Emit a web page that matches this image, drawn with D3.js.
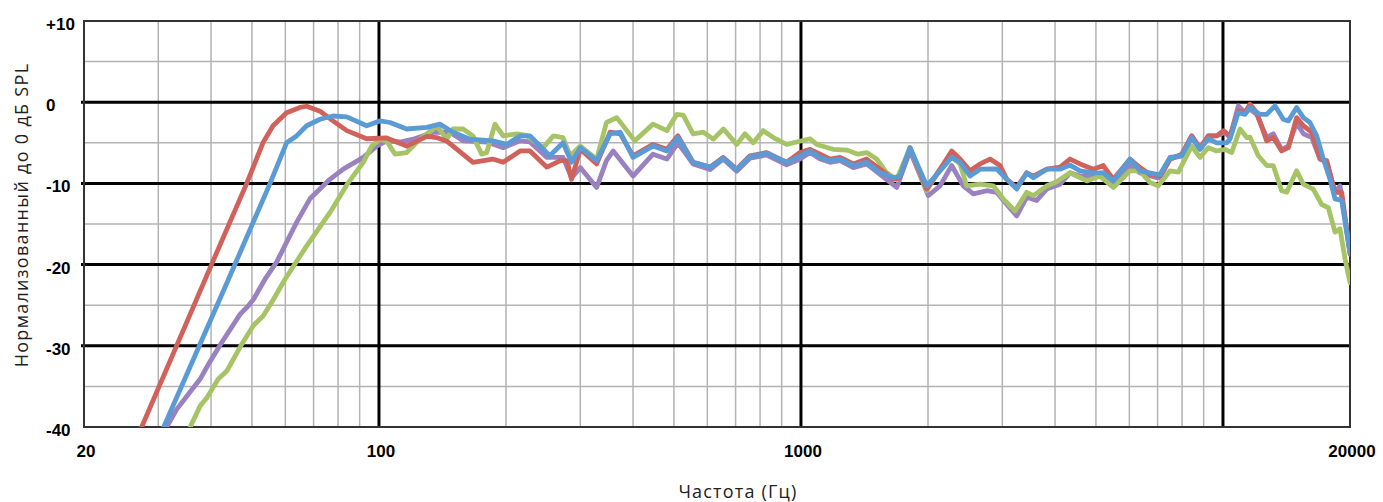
<!DOCTYPE html>
<html>
<head>
<meta charset="utf-8">
<script src="https://cdn.jsdelivr.net/npm/d3@7"></script>
<style>
  body { margin: 0; background: #fff; }
  svg { display: block; }
</style>
</head>
<body>
<script>
// frequency response, [Hz, dB]
var redData = [[27.4,-40],[40.1,-20],[48.6,-10],[53.1,-5],[56.1,-2.9],[60.4,-1.3],[65,-0.65],[67.4,-0.5],[72.5,-1.1],[77.8,-2.3],[83.9,-3.5],[93.5,-4.5],[104.3,-4.4],[116.3,-5.4],[129.8,-4.2],[137,-4.35],[144.7,-4.8],[149.8,-5.4],[167,-7.4],[186,-7.0],[197,-7.4],[216,-6.0],[228,-6.0],[250,-8.0],[269,-7.2],[279,-7.2],[286,-9.5],[300,-5.8],[328,-7.6],[353,-3.7],[373,-3.9],[400,-6.6],[446,-5.2],[481,-5.8],[511,-4.15],[555,-7.4],[609,-8.0],[654,-6.8],[704,-8.25],[757,-6.6],[830,-6.2],[925,-7.4],[995,-6.2],[1051,-5.8],[1110,-6.4],[1172,-7.0],[1238,-6.8],[1331,-7.6],[1431,-7.0],[1539,-8.25],[1655,-9.5],[1716,-9.3],[1813,-5.6],[1986,-10.7],[2136,-8.25],[2276,-6.0],[2382,-7.0],[2516,-8.45],[2657,-7.6],[2806,-7.0],[2963,-7.8],[3074,-9.5],[3246,-10.5],[3428,-8.7],[3554,-9.1],[3823,-8.25],[4110,-8.0],[4341,-7.0],[4584,-7.6],[4930,-8.25],[5205,-7.8],[5497,-9.5],[6022,-7.0],[6358,-8.05],[6718,-8.9],[7093,-9.1],[7489,-7.0],[7983,-6.4],[8431,-4.15],[8822,-5.6],[9230,-4.15],[9666,-4.15],[10020,-3.5],[10390,-4.15],[10872,-1.07],[11280,-1.27],[11588,-0.25],[12020,-1.27],[12694,-4.76],[13158,-4.35],[13774,-6.0],[14286,-5.6],[14948,-1.9],[15508,-2.9],[16234,-3.7],[16984,-7.0],[17618,-7.2],[18430,-11.1],[19114,-11.1],[20000,-18.7]];

var blueData = [[30.9,-40],[44.0,-21.8],[55.2,-10],[60.4,-5],[63.8,-4.15],[67.4,-2.9],[72.5,-2.1],[77.8,-1.7],[83.9,-1.8],[93.5,-2.9],[100.6,-2.3],[106.2,-2.5],[116.3,-3.3],[129.8,-3.1],[139.4,-2.7],[149.8,-3.7],[164.3,-4.55],[186,-4.76],[200.8,-5.2],[216,-4.15],[228,-4.15],[254,-6.6],[273,-5.0],[286,-7.4],[300,-5.6],[328,-7.2],[353,-3.9],[373,-3.7],[400,-6.8],[446,-5.4],[481,-6.0],[511,-4.35],[555,-7.4],[609,-8.0],[654,-6.9],[704,-8.3],[757,-6.7],[830,-6.3],[925,-7.4],[995,-6.6],[1051,-6.0],[1110,-6.8],[1172,-7.2],[1238,-7.0],[1331,-7.8],[1431,-7.4],[1539,-8.7],[1655,-9.3],[1716,-9.1],[1813,-5.6],[1986,-10.3],[2136,-8.45],[2276,-6.8],[2382,-7.4],[2516,-9.1],[2657,-8.25],[2908,-8.2],[3074,-9.5],[3246,-10.7],[3428,-8.7],[3554,-9.3],[3823,-8.25],[4110,-8.25],[4341,-7.75],[4584,-8.45],[4930,-8.7],[5205,-8.7],[5497,-9.7],[6022,-7.0],[6358,-8.45],[6968,-8.9],[7093,-8.9],[7489,-6.8],[7983,-6.6],[8431,-4.35],[8822,-5.8],[9230,-4.5],[9666,-5.0],[10206,-5.0],[10390,-4.55],[10872,-1.27],[11280,-1.5],[11588,-0.65],[12238,-1.5],[12694,-1.5],[13282,-0.45],[13896,-2.1],[14286,-2.3],[14948,-0.65],[15508,-1.9],[16074,-2.5],[16680,-4.15],[17292,-7.0],[17934,-9.5],[18430,-11.9],[19114,-12.1],[19644,-16.0],[20000,-18.5]];

var purpleData = [[31.4,-40],[33.2,-37.8],[35.3,-36.0],[37.7,-34.1],[39.4,-32.3],[42.4,-29.6],[46.9,-26.1],[49.0,-25.1],[50.4,-24.3],[53.7,-21.8],[57.2,-19.7],[63.8,-14.8],[68.6,-11.9],[76.5,-9.5],[82.3,-8.25],[91.8,-6.8],[98.8,-5.4],[104.3,-4.76],[112.2,-4.9],[120.6,-4.55],[134.5,-3.7],[147.3,-3.7],[158.2,-4.76],[180,-4.9],[197,-5.6],[216,-4.76],[228,-4.9],[250,-6.8],[273,-6.8],[286,-9.3],[300,-8.05],[328,-10.5],[346,-7.2],[359,-6.0],[400,-9.1],[446,-6.4],[481,-7.0],[511,-5.0],[555,-7.6],[609,-8.3],[654,-7.0],[704,-8.5],[757,-6.9],[830,-6.5],[925,-7.7],[995,-7.0],[1051,-6.2],[1110,-7.0],[1172,-7.4],[1238,-7.2],[1331,-8.05],[1431,-7.6],[1539,-8.9],[1686,-10.5],[1813,-6.0],[2003,-11.5],[2136,-10.3],[2276,-7.8],[2424,-10.3],[2561,-11.3],[2756,-10.9],[2908,-11.1],[3074,-12.6],[3246,-14.0],[3428,-11.7],[3619,-12.1],[3823,-10.7],[4110,-10.1],[4341,-8.7],[4584,-9.1],[4930,-9.1],[5205,-8.7],[5497,-9.9],[6022,-7.8],[6358,-8.7],[6968,-9.3],[7093,-9.3],[7489,-7.0],[7983,-6.6],[8431,-4.15],[8822,-5.8],[9230,-4.15],[9666,-4.15],[10114,-3.7],[10390,-4.35],[10872,-0.45],[11280,-1.27],[11588,-0.85],[12020,-1.5],[12694,-4.35],[13158,-3.9],[13774,-5.8],[14286,-5.4],[14948,-2.5],[15508,-3.9],[16234,-4.35],[16984,-7.0],[17618,-7.4],[18430,-11.1],[18938,-10.3],[20000,-18.5]];

var greenData = [[35.7,-40],[37.7,-37.4],[39.1,-36.4],[41.6,-34.1],[43.6,-33.1],[47.3,-29.8],[50.4,-27.5],[53.2,-26.3],[56.2,-24.3],[59.9,-21.8],[67.4,-17.7],[76.5,-13.6],[84.6,-9.9],[91.8,-7.4],[96.1,-5.4],[100.6,-4.55],[104.3,-4.8],[109.2,-6.4],[116.3,-6.2],[125.1,-4.55],[134.5,-3.3],[137,-2.9],[144.7,-4.55],[149.8,-3.3],[158.3,-3.3],[167,-4.15],[175.2,-6.4],[180,-6.2],[188.3,-2.7],[197,-4.15],[212,-3.9],[224,-4.1],[245,-5.6],[259,-4.15],[273,-4.35],[284,-6.6],[300,-5.4],[328,-7.0],[346,-2.5],[366,-1.9],[404,-4.76],[446,-2.7],[481,-3.5],[508,-1.5],[526,-1.6],[555,-3.9],[587,-3.7],[620,-4.55],[655,-3.3],[704,-5.2],[737,-3.9],[771,-5.0],[814,-3.5],[860,-4.35],[925,-5.2],[977,-4.9],[1051,-4.5],[1090,-5.2],[1191,-5.8],[1284,-5.9],[1365,-6.4],[1431,-6.2],[1511,-7.0],[1597,-8.7],[1686,-9.5],[1813,-5.6],[1986,-10.9],[2136,-8.25],[2255,-6.6],[2382,-7.6],[2470,-10.3],[2657,-10.1],[2856,-10.3],[3016,-11.9],[3216,-13.4],[3428,-11.1],[3554,-11.5],[3823,-10.3],[4036,-9.8],[4341,-8.7],[4756,-9.7],[5113,-9.1],[5497,-10.5],[6022,-8.45],[6358,-8.45],[6718,-9.9],[7026,-10.3],[7489,-8.45],[7838,-8.6],[8431,-5.4],[8822,-6.8],[9230,-5.6],[9666,-6.0],[10114,-5.8],[10490,-6.2],[10974,-3.3],[11386,-4.35],[11588,-4.3],[12126,-6.6],[12694,-7.8],[13158,-7.8],[13774,-10.9],[14160,-11.1],[14948,-8.45],[15508,-10.1],[16366,-10.7],[17140,-12.6],[17772,-13.0],[18430,-16.0],[18938,-15.6],[19464,-19.3],[20000,-22.2]];

var xMajor = [100, 1000, 10000];
var xMinor = [30,40,50,60,70,80,90,200,300,400,500,600,700,800,900,2000,3000,4000,5000,6000,7000,8000,9000];
var xLabels = [20, 100, 1000, 20000];
var yMajor = [0, -10, -20, -30];
var yMinor = [5, -5, -15, -25, -35];
var yLabels = [10, 0, -10, -20, -30, -40];

var width = 1383, height = 502;
var plotL = 84, plotR = 1350, plotT = 21, plotB = 427;

var svg = d3.select('body').append('svg')
    .attr('width', width)
    .attr('height', height);

var x = d3.scaleLog().domain([20, 20000]).range([plotL, plotR]);
var y = d3.scaleLinear().domain([-40, 10]).range([plotB, plotT]);

// minor grid
svg.selectAll('.vminor').data(xMinor).enter().append('line')
    .attr('x1', d => x(d)).attr('x2', d => x(d))
    .attr('y1', plotT).attr('y2', plotB)
    .attr('stroke', '#b3b3b3').attr('stroke-width', 1.5);
svg.selectAll('.hminor').data(yMinor).enter().append('line')
    .attr('x1', plotL).attr('x2', plotR)
    .attr('y1', d => y(d)).attr('y2', d => y(d))
    .attr('stroke', '#b3b3b3').attr('stroke-width', 1.5);

// major grid
svg.selectAll('.vmajor').data(xMajor).enter().append('line')
    .attr('x1', d => x(d)).attr('x2', d => x(d))
    .attr('y1', plotT).attr('y2', plotB)
    .attr('stroke', '#000').attr('stroke-width', 3);
svg.selectAll('.hmajor').data(yMajor).enter().append('line')
    .attr('x1', plotL - 3).attr('x2', plotR)
    .attr('y1', d => y(d)).attr('y2', d => y(d))
    .attr('stroke', '#000').attr('stroke-width', 3);

// frame
svg.append('rect')
    .attr('x', plotL).attr('y', plotT)
    .attr('width', plotR - plotL).attr('height', plotB - plotT)
    .attr('fill', 'none').attr('stroke', '#333').attr('stroke-width', 2);

svg.append('clipPath').attr('id', 'plot')
  .append('rect')
    .attr('x', plotL).attr('y', plotT)
    .attr('width', plotR - plotL).attr('height', plotB - plotT);

var line = d3.line()
    .x(d => x(d[0]))
    .y(d => y(d[1]));

var series = [
    { data: purpleData, color: '#9a82c0' },
    { data: greenData, color: '#a6c465' },
    { data: redData, color: '#d1625b' },
    { data: blueData, color: '#5b9bd5' }
];

var g = svg.append('g').attr('clip-path', 'url(#plot)');
series.forEach(function (s) {
    g.append('path')
        .attr('d', line(s.data))
        .attr('fill', 'none')
        .attr('stroke', s.color)
        .attr('stroke-width', 4.8)
        .attr('stroke-linejoin', 'round')
        .attr('stroke-linecap', 'round');
});

// tick labels
svg.selectAll('.ylab').data(yLabels).enter().append('text')
    .attr('x', 46)
    .attr('y', d => y(d) + 9)
    .attr('font-family', 'Liberation Sans, Arial, sans-serif')
    .attr('font-weight', 'bold')
    .attr('font-size', '17px')
    .attr('fill', '#000')
    .text(d => d > 0 ? '+' + d : d);

svg.selectAll('.xlab').data(xLabels).enter().append('text')
    .attr('x', d => x(d) + 2)
    .attr('y', 457)
    .attr('text-anchor', 'middle')
    .attr('font-family', 'Liberation Sans, Arial, sans-serif')
    .attr('font-weight', 'bold')
    .attr('font-size', '17px')
    .attr('fill', '#000')
    .text(d => d);

// axis titles
svg.append('text')
    .attr('x', 738).attr('y', 498)
    .attr('text-anchor', 'middle')
    .attr('font-family', 'Open Sans, sans-serif')
    .attr('font-size', '18px')
    .attr('letter-spacing', '1.2px')
    .attr('fill', '#222')
    .text('Частота (Гц)');

svg.append('text')
    .attr('transform', 'translate(28,215) rotate(-90)')
    .attr('text-anchor', 'middle')
    .attr('font-family', 'Open Sans, sans-serif')
    .attr('font-size', '18px')
    .attr('letter-spacing', '1.3px')
    .attr('fill', '#222')
    .text('Нормализованный до 0 дБ SPL');
</script>
</body>
</html>
